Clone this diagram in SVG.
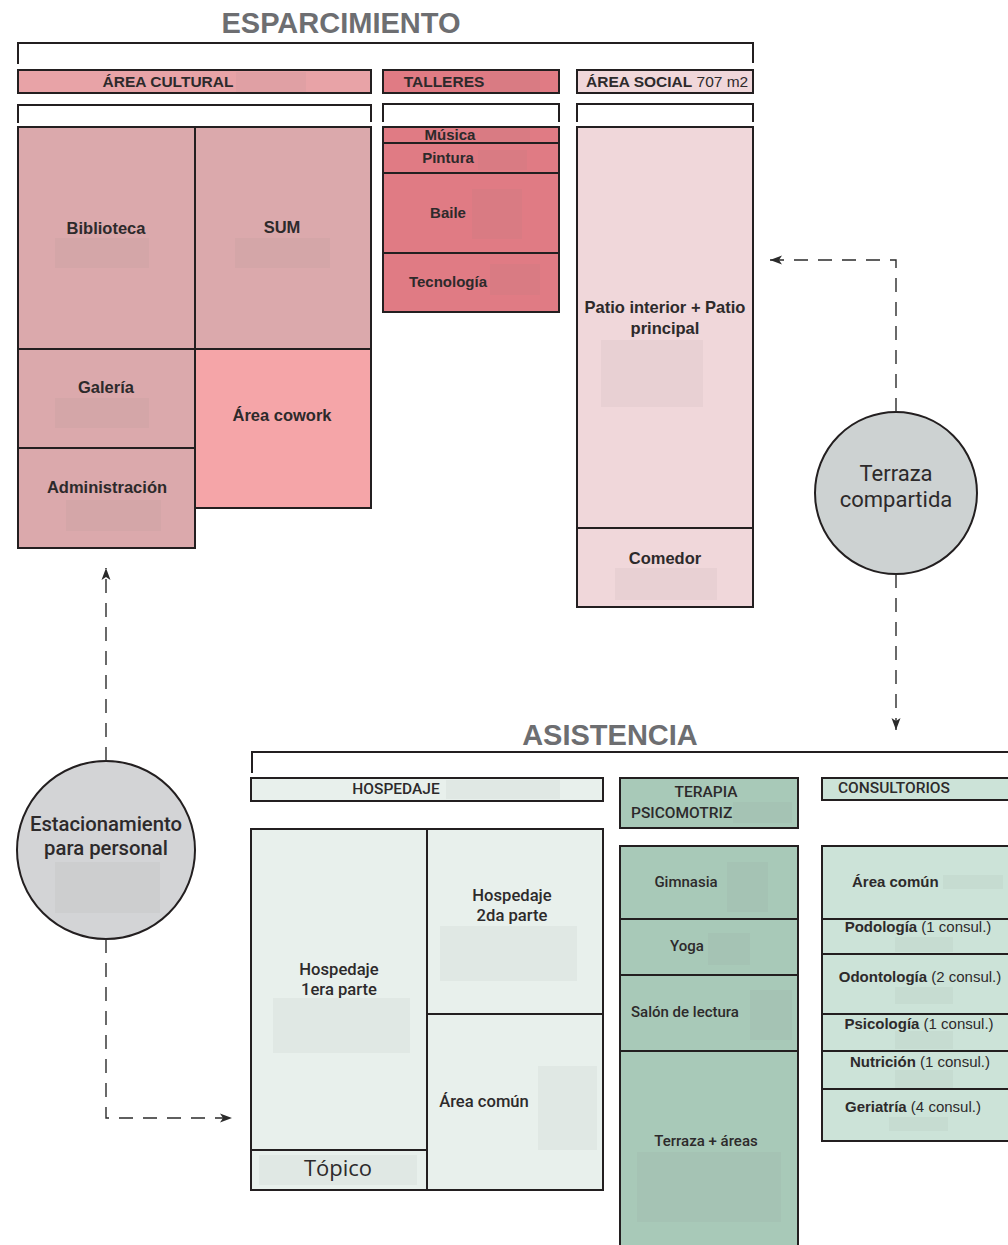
<svg xmlns="http://www.w3.org/2000/svg" width="1008" height="1245" viewBox="0 0 1008 1245">
<style>
.bx{stroke:#231f20;stroke-width:2}
.br{fill:none;stroke:#231f20;stroke-width:2}
.c1{fill:#dba9ac}.cw{fill:#f5a5a8}.ct{fill:#e07b84}.cs{fill:#f0d7da}.cac{fill:#e8a3a7}
.ch{fill:#e8f0ec}.cg{fill:#a8c9b8}.cc{fill:#cce3d8}
.bl{fill:#808080;fill-opacity:0.07;stroke:none}
.tt{font-family:"Liberation Sans",Arial,sans-serif;font-weight:bold;font-size:29px;fill:#6d6e71;text-anchor:middle}
.hb{font-family:"Liberation Sans",Arial,sans-serif;font-weight:bold;font-size:15.5px;fill:#2d2a2b}
.lb{font-family:"Liberation Sans",Arial,sans-serif;font-weight:bold;font-size:16.5px;fill:#2d2a2b;text-anchor:middle}
.lt{font-family:"Liberation Sans",Arial,sans-serif;font-weight:bold;font-size:15px;fill:#2d2a2b;text-anchor:middle}
.lc{font-family:"Liberation Sans",Arial,sans-serif;font-size:15px;fill:#2d2a2b}
.rm{font-family:Roboto,"Noto Sans",sans-serif;font-weight:500;font-size:15px;fill:#2d2a2b}
.rl{font-family:Roboto,"Noto Sans",sans-serif;font-weight:500;font-size:16.6px;fill:#2d2a2b;text-anchor:middle}
.rh{font-family:Roboto,"Noto Sans",sans-serif;font-weight:500;font-size:15.5px;fill:#2d2a2b}
.cir{font-family:Roboto,"Noto Sans",sans-serif;fill:#2d2a2b;text-anchor:middle}
.dash{fill:none;stroke:#2b2b2b;stroke-width:1.4;stroke-dasharray:14 10}
</style>
<defs>
<marker id="ah" markerUnits="userSpaceOnUse" markerWidth="14" markerHeight="10" refX="12" refY="5" orient="auto">
<path d="M0,0.5 L12,5 L0,9.5 L3,5 z" fill="#2b2b2b"/>
</marker>
</defs>
<rect width="1008" height="1245" fill="#ffffff"/>

<g id="esparcimiento">
<text class="tt" x="341" y="33">ESPARCIMIENTO</text>
<path class="br" d="M18,64 V43 H753 V63"/>
</g>

<g id="area-cultural-header">
<rect class="bx cac" x="18" y="70" width="353" height="23"/>
<rect class="bl" x="236" y="72" width="70" height="20"/>
<text class="hb" x="168" y="87" text-anchor="middle">ÁREA CULTURAL</text>
<path class="br" d="M18,123 V105 H371 V122"/>
</g>

<g id="talleres-header">
<rect class="bx ct" x="383" y="70" width="176" height="23"/>
<rect class="bl" x="490" y="72" width="50" height="20"/>
<text class="hb" x="444" y="87" text-anchor="middle">TALLERES</text>
<path class="br" d="M383,122 V104 H559 V122"/>
</g>

<g id="area-social-header">
<rect class="bx cs" x="577" y="70" width="176" height="23"/>
<text class="hb" x="586" y="87">ÁREA SOCIAL<tspan font-weight="normal"> 707 m2</tspan></text>
<path class="br" d="M577,122 V104 H753 V122"/>
</g>

<g id="biblioteca">
<rect class="bx c1" x="18" y="127" width="177" height="222"/>
<rect class="bl" x="55" y="238" width="94" height="30"/>
<text class="lb" x="106" y="234">Biblioteca</text>
</g>
<g id="sum">
<rect class="bx c1" x="195" y="127" width="176" height="222"/>
<rect class="bl" x="235" y="238" width="95" height="30"/>
<text class="lb" x="282" y="233">SUM</text>
</g>
<g id="galeria">
<rect class="bx c1" x="18" y="349" width="177" height="99"/>
<rect class="bl" x="55" y="398" width="94" height="30"/>
<text class="lb" x="106" y="393">Galería</text>
</g>
<g id="administracion">
<rect class="bx c1" x="18" y="448" width="177" height="100"/>
<rect class="bl" x="66" y="500" width="95" height="31"/>
<text class="lb" x="107" y="493">Administración</text>
</g>
<g id="area-cowork">
<rect class="bx cw" x="195" y="349" width="176" height="159"/>
<text class="lb" x="282" y="421">Área cowork</text>
</g>

<g id="musica">
<rect class="bx ct" x="383" y="127" width="176" height="16"/>
<rect class="bl" x="480" y="128" width="50" height="14"/>
<text class="lt" x="450" y="140">Música</text>
</g>
<g id="pintura">
<rect class="bx ct" x="383" y="143" width="176" height="30"/>
<rect class="bl" x="478" y="150" width="49" height="20"/>
<text class="lt" x="448" y="163">Pintura</text>
</g>
<g id="baile">
<rect class="bx ct" x="383" y="173" width="176" height="80"/>
<rect class="bl" x="472" y="189" width="50" height="50"/>
<text class="lt" x="448" y="218">Baile</text>
</g>
<g id="tecnologia">
<rect class="bx ct" x="383" y="253" width="176" height="59"/>
<rect class="bl" x="490" y="264" width="50" height="31"/>
<text class="lt" x="448" y="287">Tecnología</text>
</g>

<g id="patio">
<rect class="bx cs" x="577" y="127" width="176" height="401"/>
<rect class="bl" x="601" y="340" width="102" height="67"/>
<text class="lb" x="665" y="313">Patio interior + Patio</text>
<text class="lb" x="665" y="334">principal</text>
</g>
<g id="comedor">
<rect class="bx cs" x="577" y="528" width="176" height="79"/>
<rect class="bl" x="615" y="568" width="102" height="32"/>
<text class="lb" x="665" y="564">Comedor</text>
</g>

<g id="terraza-compartida">
<circle cx="896" cy="493" r="81" fill="#cdd2d2" stroke="#231f20" stroke-width="2"/>
<text class="cir" x="896" y="481" font-size="22">Terraza</text>
<text class="cir" x="896" y="507" font-size="22">compartida</text>
</g>

<g id="estacionamiento">
<circle cx="106" cy="850" r="89" fill="#d3d4d6" stroke="#231f20" stroke-width="2"/>
<rect class="bl" x="55" y="862" width="105" height="51"/>
<text class="cir" x="106" y="831" font-size="20.3" font-weight="500">Estacionamiento</text>
<text class="cir" x="106" y="855" font-size="20.3" font-weight="500">para personal</text>
</g>

<g id="asistencia">
<text class="tt" x="610" y="745">ASISTENCIA</text>
<path class="br" d="M252,773 V752 H1010"/>
</g>

<g id="hospedaje-header">
<rect class="bx ch" x="251" y="778" width="352" height="23"/>
<rect class="bl" x="446" y="780" width="114" height="19"/>
<text class="rh" x="396" y="794" text-anchor="middle">HOSPEDAJE</text>
</g>
<g id="terapia-header">
<rect class="bx cg" x="620" y="778" width="178" height="50"/>
<rect class="bl" x="733" y="802" width="59" height="21"/>
<text class="rh" x="706" y="797" text-anchor="middle">TERAPIA</text>
<text class="rh" x="631" y="818">PSICOMOTRIZ</text>
</g>
<g id="consultorios-header">
<rect class="bx cc" x="822" y="778" width="190" height="22"/>
<text class="rh" x="838" y="793">CONSULTORIOS</text>
</g>

<g id="hospedaje-1">
<rect class="bx ch" x="251" y="829" width="176" height="321"/>
<rect class="bl" x="273" y="998" width="137" height="55"/>
<text class="rl" x="339" y="975">Hospedaje</text>
<text class="rl" x="339" y="995">1era parte</text>
</g>
<g id="topico">
<rect class="bx ch" x="251" y="1150" width="176" height="40"/>
<rect class="bl" x="259" y="1155" width="158" height="30"/>
<text x="338" y="1176" text-anchor="middle" font-family="'Open Sans','Noto Sans',sans-serif" font-size="22" fill="#2d2a2b">Tópico</text>
</g>
<g id="hospedaje-2">
<rect class="bx ch" x="427" y="829" width="176" height="185"/>
<rect class="bl" x="440" y="926" width="137" height="55"/>
<text class="rl" x="512" y="901">Hospedaje</text>
<text class="rl" x="512" y="921">2da parte</text>
</g>
<g id="hospedaje-area-comun">
<rect class="bx ch" x="427" y="1014" width="176" height="176"/>
<rect class="bl" x="538" y="1066" width="59" height="84"/>
<text class="rl" x="484" y="1107">Área común</text>
</g>

<g id="gimnasia">
<rect class="bx cg" x="620" y="846" width="178" height="73"/>
<rect class="bl" x="727" y="862" width="41" height="50"/>
<text class="rm" x="686" y="887" text-anchor="middle">Gimnasia</text>
</g>
<g id="yoga">
<rect class="bx cg" x="620" y="919" width="178" height="56"/>
<rect class="bl" x="708" y="933" width="42" height="32"/>
<text class="rm" x="687" y="951" text-anchor="middle">Yoga</text>
</g>
<g id="salon-lectura">
<rect class="bx cg" x="620" y="975" width="178" height="76"/>
<rect class="bl" x="750" y="990" width="42" height="50"/>
<text class="rm" x="685" y="1017" text-anchor="middle">Salón de lectura</text>
</g>
<g id="terraza-areas">
<rect class="bx cg" x="620" y="1051" width="178" height="200"/>
<rect class="bl" x="637" y="1152" width="144" height="70"/>
<text class="rm" x="706" y="1146" text-anchor="middle">Terraza + áreas</text>
</g>

<g id="cons-area-comun">
<rect class="bx cc" x="822" y="846" width="190" height="73"/>
<rect class="bl" x="943" y="875" width="60" height="14"/>
<text class="lc" x="852" y="887" font-weight="bold">Área común</text>
</g>
<g id="podologia">
<rect class="bx cc" x="822" y="919" width="190" height="35"/>
<rect class="bl" x="895" y="937" width="58" height="15"/>
<text class="lc" x="918" y="932" text-anchor="middle"><tspan font-weight="bold">Podología</tspan> (1 consul.)</text>
</g>
<g id="odontologia">
<rect class="bx cc" x="822" y="954" width="190" height="60"/>
<rect class="bl" x="895" y="987" width="58" height="17"/>
<text class="lc" x="920" y="982" text-anchor="middle"><tspan font-weight="bold">Odontología</tspan> (2 consul.)</text>
</g>
<g id="psicologia">
<rect class="bx cc" x="822" y="1014" width="190" height="37"/>
<rect class="bl" x="895" y="1031" width="58" height="18"/>
<text class="lc" x="919" y="1029" text-anchor="middle"><tspan font-weight="bold">Psicología</tspan> (1 consul.)</text>
</g>
<g id="nutricion">
<rect class="bx cc" x="822" y="1051" width="190" height="38"/>
<rect class="bl" x="895" y="1070" width="58" height="18"/>
<text class="lc" x="920" y="1067" text-anchor="middle"><tspan font-weight="bold">Nutrición</tspan> (1 consul.)</text>
</g>
<g id="geriatria">
<rect class="bx cc" x="822" y="1089" width="190" height="52"/>
<rect class="bl" x="889" y="1117" width="59" height="14"/>
<text class="lc" x="845" y="1112"><tspan font-weight="bold">Geriatría</tspan> (4 consul.)</text>
</g>

<g id="connectors">
<path class="dash" d="M896,412 V260 H770" marker-end="url(#ah)"/>
<path class="dash" d="M896,574 V730" marker-end="url(#ah)"/>
<path class="dash" d="M106,761 V568" marker-end="url(#ah)"/>
<path class="dash" d="M106,939 V1118 H232" marker-end="url(#ah)"/>
</g>
</svg>
